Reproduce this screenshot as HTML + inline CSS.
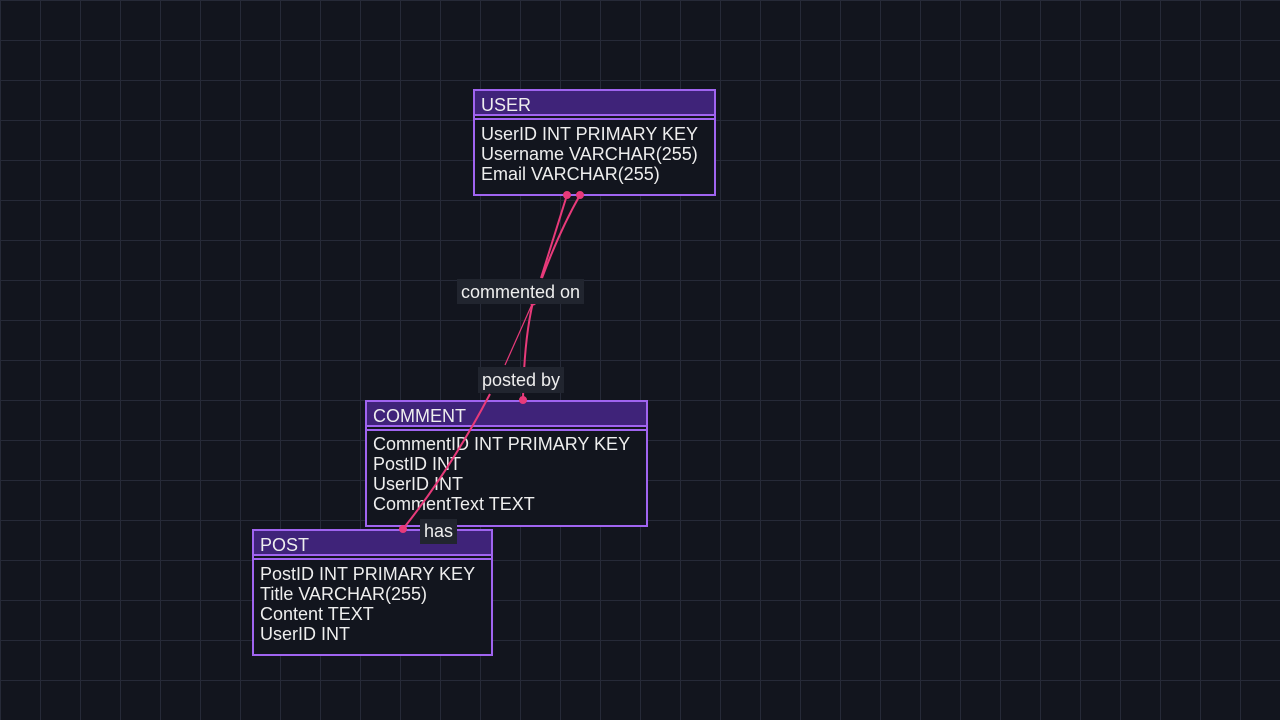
<!DOCTYPE html>
<html><head><style>
body{margin:0;width:1280px;height:720px;overflow:hidden;background:#12151e;font-family:"Liberation Sans",sans-serif;position:relative;
background-image:linear-gradient(#262a38 1px,transparent 1px),linear-gradient(90deg,#262a38 1px,transparent 1px);background-size:40px 40px;background-position:0 0;}
.t{position:absolute;border:2px solid #a064f0;background:#12151e;box-sizing:border-box;color:#eee;font-size:18px}
.h{background:#3f2379;height:23px;line-height:28px;padding-left:6px;border-bottom:2px solid #a064f0;margin-bottom:2px;}
.h2{border-top:2px solid #a064f0;}
.b{padding:4px 6px;line-height:20px;}
.l{position:absolute;background:#21252f;color:#eee;font-size:18px;line-height:23px;padding:0 4px;}
svg{position:absolute;left:0;top:0}
</style></head><body>
<div class="t" style="left:473px;top:89px;width:243px;height:107px"><div class="h">USER</div><div class="h2"></div><div class="b">UserID INT PRIMARY KEY<br>Username VARCHAR(255)<br>Email VARCHAR(255)</div></div>
<div class="t" style="left:365px;top:400px;width:283px;height:127px"><div class="h">COMMENT</div><div class="h2"></div><div class="b" style="padding-top:3px">CommentID INT PRIMARY KEY<br>PostID INT<br>UserID INT<br>CommentText TEXT</div></div>
<div class="t" style="left:252px;top:529px;width:241px;height:127px"><div class="h">POST</div><div class="h2"></div><div class="b">PostID INT PRIMARY KEY<br>Title VARCHAR(255)<br>Content TEXT<br>UserID INT</div></div>
<svg width="1280" height="720" fill="none" stroke="#e83a7a" stroke-width="2">
<path d="M567 195 L541 278"/>
<path d="M580 195 Q560 230 542 278"/>
<path d="M533 302 Q524 340 523 400" />
<path d="M533 302 L505 365" stroke-width="1.2"/>
<path d="M490 394 Q450 470 403 529" />
<circle cx="567" cy="195" r="3" fill="#e83a7a"/><circle cx="580" cy="195" r="3" fill="#e83a7a"/>
<circle cx="533" cy="302" r="2.5" fill="#e83a7a"/><circle cx="523" cy="400" r="3" fill="#e83a7a"/><circle cx="403" cy="529" r="3" fill="#e83a7a"/>
</svg>
<div class="l" style="left:457px;top:279px;padding-top:2px">commented on</div>
<div class="l" style="left:478px;top:367px;line-height:26px">posted by</div>
<div class="l" style="left:420px;top:519px;line-height:25px">has</div>
</body></html>
